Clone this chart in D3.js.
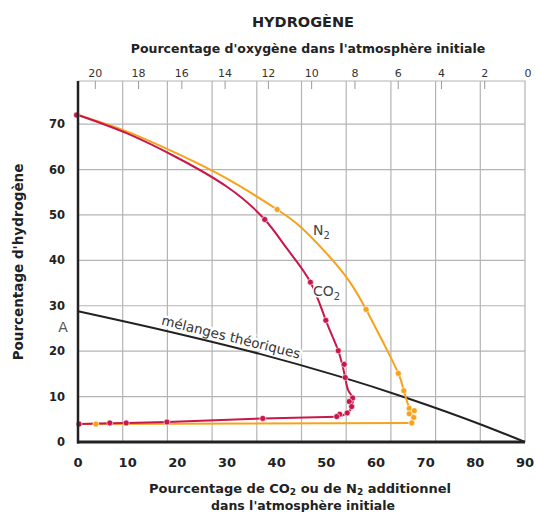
<!DOCTYPE html>
<html>
<head>
<meta charset="utf-8">
<script src="https://cdn.jsdelivr.net/npm/d3@7"></script>
<style>
  body { margin: 0; background: #fff; }
  svg { font-family: "DejaVu Sans", sans-serif; }
</style>
</head>
<body>
<div id="image"></div>
<script>
// valeurs (x = % CO2 ou N2 ajouté, y = % hydrogène)
var xTicks = [0, 10, 20, 30, 40, 50, 60, 70, 80, 90];
var yTicks = [0, 10, 20, 30, 40, 50, 60, 70];
var oxyTicks = [20, 18, 16, 14, 12, 10, 8, 6, 4, 2, 0];
var gridCols = [9, 18, 27, 36, 45, 54, 63, 72, 81];

// courbe CO2 : descente, boucle du bas, palier
var co2Curve = [[0, 72], [10, 67.9], [20, 62.6], [30, 56.2], [37.6, 49.0], [42.2, 42.4],
    [46.8, 35.2], [49.9, 26.8], [52.4, 20.1], [53.8, 14.2]];
var co2Loop = [[53.8, 14.2], [54.4, 11.4], [55.3, 9.7], [55.1, 7.8], [54.5, 6.6], [53.3, 5.9], [52.1, 5.55]];
var co2Base = [[52.1, 5.55], [37.2, 5.2], [17.9, 4.4], [9.7, 4.2], [6.4, 4.15], [0.2, 3.95]];
var co2Dots = [[-0.3, 72], [37.6, 49.0], [46.8, 35.2], [49.9, 26.8], [52.4, 20.1], [53.6, 17.1],
    [53.8, 14.2], [55.3, 9.7], [54.6, 8.9], [55.1, 7.8], [54.2, 6.4], [52.7, 6.1], [52.1, 5.6],
    [37.2, 5.2], [17.9, 4.4], [9.7, 4.2], [6.4, 4.2], [0.2, 3.95]];

// courbe N2
var n2Curve = [[0, 72], [10, 68.3], [20, 63.5], [30, 58], [40.1, 51.2], [45, 47.2],
    [50, 41.6], [54.5, 35.6], [58.0, 29.2], [61.5, 21.8], [64.5, 15.1], [65.6, 11.3], [66.7, 7.4]];
var n2Loop = [[66.7, 7.4], [67.2, 5.8], [67.2, 4.2]];
var n2Base = [[67.2, 4.2], [0, 3.95]];
var n2Dots = [[40.1, 51.2], [58.0, 29.2], [64.5, 15.1], [65.6, 11.3], [66.7, 7.4], [67.7, 6.9],
    [66.7, 6.2], [67.6, 5.4], [67.2, 4.2], [3.6, 3.95]];

// mélanges théoriques
var theo = [[0, 28.8], [18, 24.4], [36.6, 19.4], [66.2, 9.7], [81.5, 3.7], [90, 0]];

var red = "#c8174a", orange = "#f7a21b";

var svg = d3.select("#image").append("svg")
    .attr("width", 536).attr("height", 512);

var x = d3.scaleLinear().domain([0, 90]).range([78, 525]);
var y = d3.scaleLinear().domain([0, 79.5]).range([442, 81]);
var xo = d3.scaleLinear().domain([20.8, 0]).range([78, 528]);

// grille
svg.append("g").selectAll("line").data(gridCols).enter().append("line")
    .attr("x1", function(d){ return x(d); }).attr("x2", function(d){ return x(d); })
    .attr("y1", y(79.5)).attr("y2", y(0))
    .attr("stroke", "#b4b4b4").attr("stroke-width", 1.2);
svg.append("g").selectAll("line").data(yTicks.slice(1)).enter().append("line")
    .attr("x1", x(0)).attr("x2", x(90))
    .attr("y1", function(d){ return y(d); }).attr("y2", function(d){ return y(d); })
    .attr("stroke", "#b4b4b4").attr("stroke-width", 1.2);
// cadre haut et droit
svg.append("path")
    .attr("d", "M" + x(0) + "," + y(79.5) + "H" + x(90) + "V" + y(0))
    .attr("fill", "none").attr("stroke", "#b4b4b4").attr("stroke-width", 1.2);

// graduations du haut (oxygène)
svg.append("g").selectAll("line").data(oxyTicks.filter(function(d){ return d > 0; })).enter().append("line")
    .attr("x1", function(d){ return xo(d); }).attr("x2", function(d){ return xo(d); })
    .attr("y1", y(79.5)).attr("y2", y(79.5) + 8)
    .attr("stroke", "#999").attr("stroke-width", 1);
svg.append("g").selectAll("text").data(oxyTicks).enter().append("text")
    .attr("x", function(d){ return xo(d); }).attr("y", 77)
    .attr("text-anchor", "middle").attr("font-size", 11).attr("fill", "#333")
    .text(function(d){ return d; });

// étiquette mélanges théoriques
svg.append("text")
    .attr("transform", "translate(231,337) rotate(13.8)")
    .attr("text-anchor", "middle").attr("dy", "0.35em")
    .attr("font-size", 13.5).attr("fill", "#333")
    .attr("stroke", "#fff").attr("stroke-width", 5).attr("paint-order", "stroke")
    .text("mélanges théoriques");

var line = d3.line()
    .x(function(d){ return x(d[0]); })
    .y(function(d){ return y(d[1]); });
var smooth = d3.curveCatmullRom.alpha(0.5);

function trace(data, curve, color) {
    svg.append("path").datum(data)
        .attr("d", line.curve(curve))
        .attr("fill", "none").attr("stroke", color).attr("stroke-width", 2)
        .attr("stroke-linejoin", "round");
}

trace(theo, d3.curveMonotoneX, "#222");

trace(n2Base, d3.curveLinear, orange);
trace(n2Curve, d3.curveNatural, orange);
trace(n2Loop, smooth, orange);

trace(co2Base, d3.curveLinear, red);
trace(co2Curve, d3.curveNatural, red);
trace(co2Loop, smooth, red);

svg.append("g").selectAll("circle").data(n2Dots).enter().append("circle")
    .attr("cx", function(d){ return x(d[0]); }).attr("cy", function(d){ return y(d[1]); })
    .attr("r", 3).attr("fill", orange).attr("stroke", "#fff").attr("stroke-width", 0.6);
svg.append("g").selectAll("circle").data(co2Dots).enter().append("circle")
    .attr("cx", function(d){ return x(d[0]); }).attr("cy", function(d){ return y(d[1]); })
    .attr("r", 3).attr("fill", red).attr("stroke", "#fff").attr("stroke-width", 0.6);

// axes
svg.append("line").attr("x1", x(0)).attr("x2", x(0)).attr("y1", y(79.5)).attr("y2", y(0) + 1.5)
    .attr("stroke", "#222").attr("stroke-width", 2.5);
svg.append("line").attr("x1", x(0) - 1).attr("x2", x(90)).attr("y1", y(0)).attr("y2", y(0))
    .attr("stroke", "#222").attr("stroke-width", 3);

svg.append("g").selectAll("text").data(xTicks).enter().append("text")
    .attr("x", function(d){ return x(d); }).attr("y", 467)
    .attr("text-anchor", "middle").attr("font-size", 13).attr("font-weight", "bold").attr("fill", "#222")
    .text(function(d){ return d; });
svg.append("g").selectAll("text").data(yTicks).enter().append("text")
    .attr("x", 65).attr("y", function(d){ return y(d); }).attr("dy", "0.35em")
    .attr("text-anchor", "end").attr("font-size", 11.5).attr("font-weight", "bold").attr("fill", "#222")
    .text(function(d){ return d; });

// étiquettes
svg.append("text").attr("x", 63).attr("y", 327).attr("dy", "0.35em")
    .attr("text-anchor", "middle").attr("font-size", 14).attr("fill", "#555").text("A");

var n2t = svg.append("text").attr("x", 313).attr("y", 235).attr("font-size", 14).attr("fill", "#444");
n2t.append("tspan").text("N");
n2t.append("tspan").attr("dy", 4).attr("font-size", 10).text("2");

var co2t = svg.append("text").attr("x", 313).attr("y", 296).attr("font-size", 14).attr("fill", "#444")
    .attr("stroke", "#fff").attr("stroke-width", 3).attr("paint-order", "stroke");
co2t.append("tspan").text("CO");
co2t.append("tspan").attr("dy", 4).attr("font-size", 10).text("2");

// titres
svg.append("text").attr("x", 303).attr("y", 27).attr("text-anchor", "middle")
    .attr("font-size", 14.5).attr("font-weight", "bold").attr("fill", "#222").text("HYDROGÈNE");
svg.append("text").attr("x", 308).attr("y", 53).attr("text-anchor", "middle")
    .attr("font-size", 12.5).attr("font-weight", "bold").attr("fill", "#222")
    .text("Pourcentage d'oxygène dans l'atmosphère initiale");

var bt = svg.append("text").attr("x", 300).attr("y", 493).attr("text-anchor", "middle")
    .attr("font-size", 13).attr("font-weight", "bold").attr("fill", "#222");
bt.append("tspan").text("Pourcentage de CO");
bt.append("tspan").attr("dy", 2).attr("font-size", 9).text("2");
bt.append("tspan").attr("dy", -2).text(" ou de N");
bt.append("tspan").attr("dy", 2).attr("font-size", 9).text("2");
bt.append("tspan").attr("dy", -2).text(" additionnel");
svg.append("text").attr("x", 303).attr("y", 510).attr("text-anchor", "middle")
    .attr("font-size", 12.5).attr("font-weight", "bold").attr("fill", "#222")
    .text("dans l'atmosphère initiale");

svg.append("text").attr("transform", "translate(23,262) rotate(-90)").attr("text-anchor", "middle")
    .attr("font-size", 13.5).attr("font-weight", "bold").attr("fill", "#222")
    .text("Pourcentage d'hydrogène");
</script>
</body>
</html>
